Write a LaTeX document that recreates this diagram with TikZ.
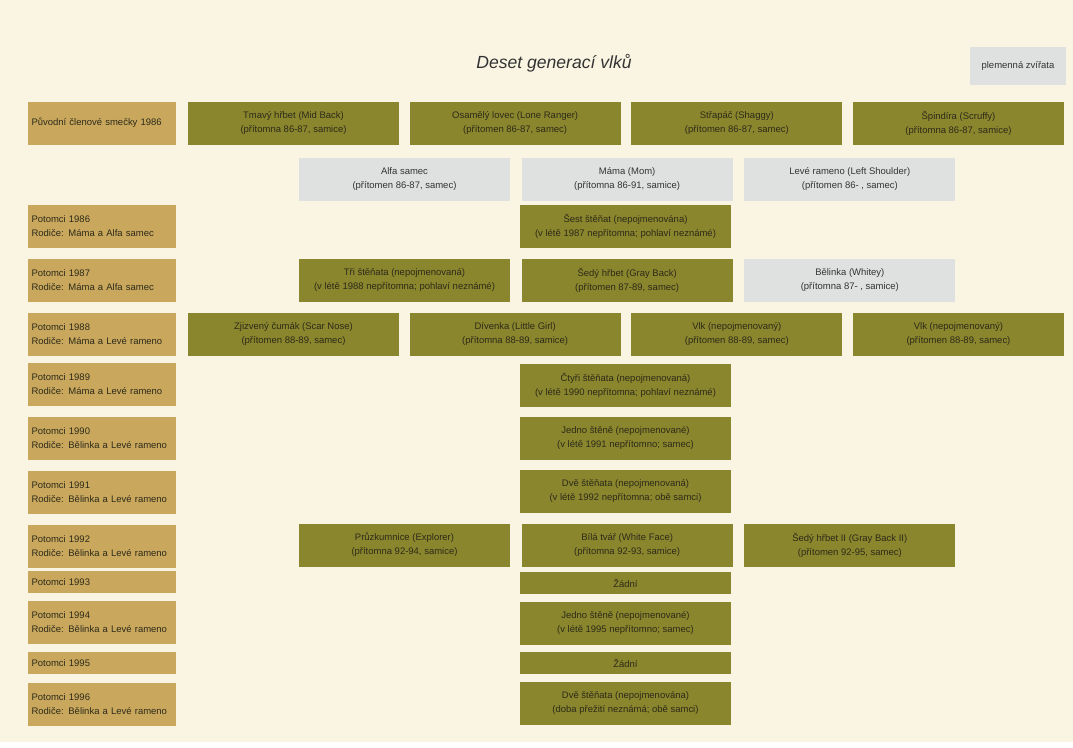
\documentclass[tikz,border=0pt]{standalone}
\usepackage{fontspec}
\setmainfont{Liberation Sans}
\usetikzlibrary{positioning}
\definecolor{pagecream}{RGB}{250,245,226}
\definecolor{yeartan}{RGB}{201,168,94}
\definecolor{wolfolive}{RGB}{138,134,46}
\definecolor{breedgray}{RGB}{222,225,223}
\definecolor{inkdark}{RGB}{45,42,25}

\begin{document}
\begin{tikzpicture}[x=0.02cm, y=-0.02cm,
    yearbox/.style={rectangle, fill=yeartan, text=inkdark, minimum width=2.96cm, minimum height=0.86cm, text width=2.82cm, align=left, inner sep=0pt, font=\fontsize{5.4}{8}\selectfont},
    wolfbox/.style={rectangle, fill=wolfolive, text=inkdark, minimum width=4.22cm, minimum height=0.86cm, align=center, inner sep=0pt, font=\fontsize{5.4}{8}\selectfont},
    breedbox/.style={wolfbox, fill=breedgray, text=black!80},
    thinbox/.style={minimum height=0.43cm}]
    \fill[white] (0,0) rectangle (1073,748);
    \fill[pagecream] (0,0) rectangle (1073,742);

    \node[font=\itshape\fontsize{10}{12}\selectfont, text=black!80] (nadpis) at (554,63) {Deset generací vlků};
    \node[breedbox, minimum width=1.92cm, minimum height=0.76cm] (legenda) at (1018,66) {plemenná zvířata};

    \node[yearbox] (puvodni) at (102,123) {Původní členové smečky 1986};
    \node[wolfbox] (tmavy) at (293.5,123) {Tmavý hřbet (Mid Back)\\(přítomna 86-87, samice)};
    \node[wolfbox, right=0.2cm of tmavy] (osamely) {Osamělý lovec (Lone Ranger)\\(přítomen 86-87, samec)};
    \node[wolfbox, right=0.2cm of osamely] (strapac) {Střapáč (Shaggy)\\(přítomen 86-87, samec)};
    \node[wolfbox, right=0.2cm of strapac] (spindira) {Špindíra (Scruffy)\\(přítomna 86-87, samice)};

    \node[breedbox] (alfa) at (404.5,179) {Alfa samec\\(přítomen 86-87, samec)};
    \node[breedbox, right=0.22cm of alfa] (mama) {Máma (Mom)\\(přítomna 86-91, samice)};
    \node[breedbox, right=0.22cm of mama] (leve) {Levé rameno (Left Shoulder)\\(přítomen 86- , samec)};

    \node[yearbox] (pot86) at (102,226) {Potomci 1986\\Rodiče: Máma a Alfa samec};
    \node[wolfbox] (sest) at (625.5,226) {Šest štěňat (nepojmenována)\\(v létě 1987 nepřítomna; pohlaví neznámé)};

    \node[yearbox] (pot87) at (102,280) {Potomci 1987\\Rodiče: Máma a Alfa samec};
    \node[wolfbox] (tri) at (404.5,280) {Tři štěňata (nepojmenovaná)\\(v létě 1988 nepřítomna; pohlaví neznámé)};
    \node[wolfbox, right=0.22cm of tri] (sedy) {Šedý hřbet (Gray Back)\\(přítomen 87-89, samec)};
    \node[breedbox, right=0.22cm of sedy] (belinka) {Bělinka (Whitey)\\(přítomna 87- , samice)};

    \node[yearbox] (pot88) at (102,334) {Potomci 1988\\Rodiče: Máma a Levé rameno};
    \node[wolfbox] (zjizveny) at (293.5,334) {Zjizvený čumák (Scar Nose)\\(přítomen 88-89, samec)};
    \node[wolfbox, right=0.2cm of zjizveny] (divenka) {Dívenka (Little Girl)\\(přítomna 88-89, samice)};
    \node[wolfbox, right=0.2cm of divenka] (vlkjedna) {Vlk (nepojmenovaný)\\(přítomen 88-89, samec)};
    \node[wolfbox, right=0.2cm of vlkjedna] (vlkdva) {Vlk (nepojmenovaný)\\(přítomen 88-89, samec)};

    \node[yearbox] (pot89) at (102,384) {Potomci 1989\\Rodiče: Máma a Levé rameno};
    \node[wolfbox] (ctyri) at (625.5,385) {Čtyři štěňata (nepojmenovaná)\\(v létě 1990 nepřítomna; pohlaví neznámé)};

    \node[yearbox] (pot90) at (102,438) {Potomci 1990\\Rodiče: Bělinka a Levé rameno};
    \node[wolfbox] (jedno90) at (625.5,438) {Jedno štěně (nepojmenované)\\(v létě 1991 nepřítomno; samec)};

    \node[yearbox] (pot91) at (102,492) {Potomci 1991\\Rodiče: Bělinka a Levé rameno};
    \node[wolfbox] (dve91) at (625.5,491) {Dvě štěňata (nepojmenovaná)\\(v létě 1992 nepřítomna; obě samci)};

    \node[yearbox] (pot92) at (102,546) {Potomci 1992\\Rodiče: Bělinka a Levé rameno};
    \node[wolfbox] (pruzkum) at (404.5,545) {Průzkumnice (Explorer)\\(přítomna 92-94, samice)};
    \node[wolfbox, right=0.22cm of pruzkum] (bila) {Bílá tvář (White Face)\\(přítomna 92-93, samice)};
    \node[wolfbox, right=0.22cm of bila] (sedydva) {Šedý hřbet II (Gray Back II)\\(přítomen 92-95, samec)};

    \node[yearbox, thinbox] (pot93) at (102,582) {Potomci 1993};
    \node[wolfbox, thinbox] (zadni93) at (625.5,583) {Žádní};

    \node[yearbox] (pot94) at (102,622) {Potomci 1994\\Rodiče: Bělinka a Levé rameno};
    \node[wolfbox] (jedno94) at (625.5,623) {Jedno štěně (nepojmenované)\\(v létě 1995 nepřítomno; samec)};

    \node[yearbox, thinbox] (pot95) at (102,663) {Potomci 1995};
    \node[wolfbox, thinbox] (zadni95) at (625.5,663) {Žádní};

    \node[yearbox] (pot96) at (102,704) {Potomci 1996\\Rodiče: Bělinka a Levé rameno};
    \node[wolfbox] (dve96) at (625.5,703) {Dvě štěňata (nepojmenována)\\(doba přežití neznámá; obě samci)};
\end{tikzpicture}
\end{document}
